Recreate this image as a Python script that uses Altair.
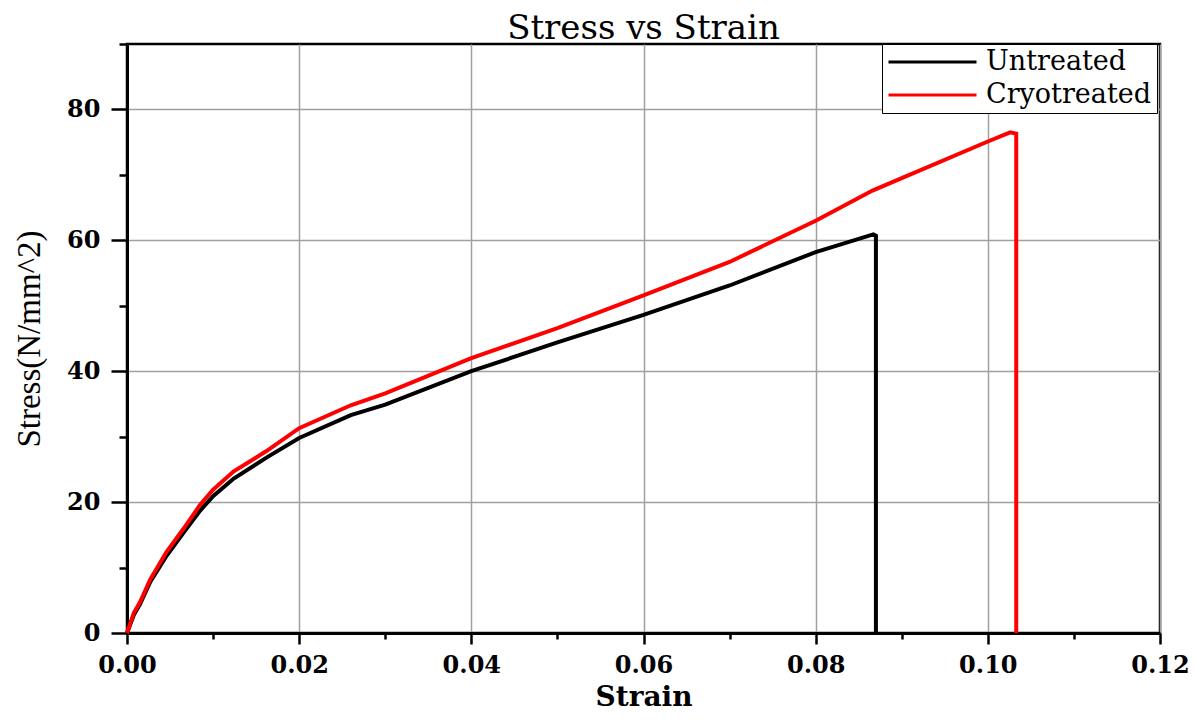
import altair as alt
import pandas as pd

untreated_strain = [0, 0.0008, 0.0015, 0.0027, 0.0046, 0.0066, 0.0085, 0.0100, 0.0124, 0.0162,
                    0.0200, 0.0260, 0.0300, 0.0400, 0.0500, 0.0600, 0.0700, 0.0800,
                    0.0867, 0.0870, 0.0870]
untreated_stress = [0, 2.8, 4.4, 7.8, 11.8, 15.4, 18.7, 20.9, 23.6, 26.8,
                    29.8, 33.3, 34.9, 40.0, 44.4, 48.6, 53.1, 58.2,
                    60.9, 60.7, 0]

cryo_strain = [0, 0.0008, 0.0015, 0.0027, 0.0046, 0.0066, 0.0085, 0.0100, 0.0124, 0.0162,
               0.0200, 0.0260, 0.0300, 0.0400, 0.0500, 0.0600, 0.0700, 0.0800,
               0.0866, 0.0900, 0.1000, 0.1026, 0.1033, 0.1033]
cryo_stress = [0, 3.1, 4.7, 8.2, 12.4, 16.0, 19.6, 21.9, 24.7, 27.8,
               31.3, 34.8, 36.6, 42.0, 46.6, 51.6, 56.7, 63.0,
               67.6, 69.5, 75.1, 76.5, 76.3, 0]

series_names = ["Untreated", "Cryotreated"]
series_colors = ["#000000", "#ff0000"]

x_ticks = [round(i * 0.01, 2) for i in range(13)]
y_ticks = list(range(0, 100, 10))

rows = []
for i, (s, v) in enumerate(zip(untreated_strain, untreated_stress)):
    rows.append({"Strain": s, "Stress": v, "Sample": series_names[0], "idx": i})
for i, (s, v) in enumerate(zip(cryo_strain, cryo_stress)):
    rows.append({"Strain": s, "Stress": v, "Sample": series_names[1], "idx": i})
df = pd.DataFrame(rows)

x_major = "round(datum.value*100) % 2 == 0"
y_major = "datum.value % 20 == 0"

chart = alt.Chart(df).mark_line(strokeWidth=4, strokeJoin="miter").encode(
    x=alt.X("Strain:Q",
            scale=alt.Scale(domain=[0, 0.12], nice=False, zero=False),
            axis=alt.Axis(
                values=x_ticks,
                title="Strain",
                labelExpr=f"{x_major} ? format(datum.value, '.2f') : ''",
                tickSize={"condition": {"test": x_major, "value": 11}, "value": 6},
                gridOpacity={"condition": {"test": x_major, "value": 1}, "value": 0},
                labelPadding=9,
                labelFlush=False,
                titlePadding=6,
            )),
    y=alt.Y("Stress:Q",
            scale=alt.Scale(domain=[0, 90], nice=False),
            axis=alt.Axis(
                values=y_ticks,
                title="Stress(N/mm^2)",
                labelExpr=f"{y_major} ? format(datum.value, 'd') : ''",
                tickSize={"condition": {"test": y_major, "value": 16}, "value": 8},
                gridOpacity={"condition": {"test": y_major, "value": 1}, "value": 0},
                labelPadding=11,
                labelFlush=False,
                titlePadding=20,
            )),
    color=alt.Color("Sample:N",
                    scale=alt.Scale(domain=series_names, range=series_colors),
                    legend=alt.Legend(
                        title=None,
                        orient="none",
                        legendX=755,
                        legendY=0,
                        symbolType="stroke",
                        symbolSize=7744,
                        symbolStrokeWidth=3,
                        clipHeight=26,
                        labelFont="DejaVu Serif",
                        labelFontSize=27,
                        labelColor="#000000",
                        labelLimit=400,
                        labelOffset=8,
                        rowPadding=6,
                        padding=5,
                        strokeColor="#000000",
                        fillColor="#ffffff",
                    )),
    order=alt.Order("idx:Q"),
).properties(
    width=1033,
    height=589,
    title=alt.TitleParams("Stress vs Strain", font="DejaVu Serif", fontSize=34,
                          fontWeight="normal", color="#000000", anchor="middle", offset=-3),
    padding={"left": 119, "top": 36, "right": 30, "bottom": 80},
    autosize=alt.AutoSizeParams(type="none"),
).configure_view(
    stroke="#000000", strokeWidth=2.5
).configure_axis(
    domainColor="#000000", domainWidth=3,
    tickColor="#000000", tickWidth=2.5,
    gridColor="#a0a0a0", gridWidth=1.5,
    labelFont="DejaVu Serif", labelFontSize=24, labelFontWeight="bold", labelColor="#000000",
    titleColor="#000000",
).configure_axisX(
    titleFont="DejaVu Serif", titleFontSize=28, titleFontWeight="bold",
).configure_axisY(
    titleFont="Liberation Serif", titleFontSize=33, titleFontWeight="normal",
)

chart.save("out.html", embed_options={"renderer": "svg", "actions": False})
